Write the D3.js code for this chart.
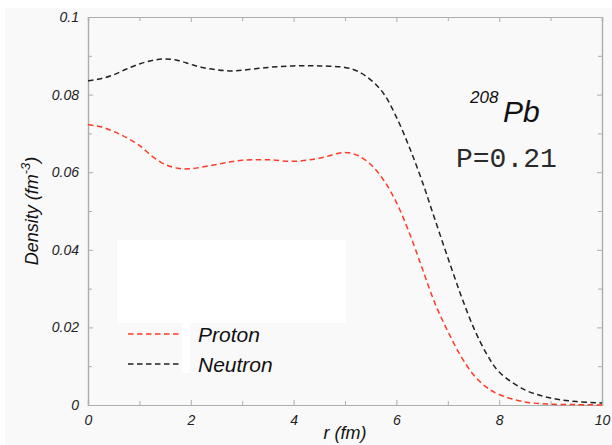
<!DOCTYPE html>
<html>
<head>
<meta charset="utf-8">
<script src="https://cdn.jsdelivr.net/npm/d3@7"></script>
<style>
  html, body { margin: 0; padding: 0; background: #ffffff; }
  svg { display: block; }
</style>
</head>
<body>
<svg id="chart" width="612" height="445"></svg>
<script>
// Radial density distributions for 208Pb
const radius = [0, 0.25, 0.5, 0.75, 1.0, 1.25, 1.5, 1.75, 2.0, 2.25, 2.5, 2.75, 3.0, 3.5, 4.0, 4.5, 5.0, 5.25, 5.5, 5.75, 6.0, 6.25, 6.5, 6.75, 7.0, 7.25, 7.5, 7.75, 8.0, 8.5, 9.0, 9.5, 10.0];
const neutronDensity = [0.0836, 0.0841, 0.0851, 0.0866, 0.0879, 0.0888, 0.0892, 0.0888, 0.0878, 0.0869, 0.0864, 0.0861, 0.0863, 0.0870, 0.0874, 0.0874, 0.0870, 0.0860, 0.0838, 0.0803, 0.0742, 0.0665, 0.0577, 0.0478, 0.0380, 0.0285, 0.0200, 0.0133, 0.0085, 0.0039, 0.0018, 0.0009, 0.0005];
const protonDensity  = [0.0722, 0.0717, 0.0705, 0.0689, 0.0669, 0.0641, 0.0620, 0.0610, 0.0609, 0.0614, 0.0620, 0.0626, 0.0631, 0.0632, 0.0628, 0.0636, 0.0651, 0.0643, 0.0620, 0.0580, 0.0522, 0.0444, 0.0353, 0.0262, 0.0190, 0.0127, 0.0078, 0.0046, 0.0027, 0.0008, 0.0002, 0.0001, 0.0000];

const xMajorTicks = [0, 2, 4, 6, 8, 10];
const xMinorTicks = [1, 3, 5, 7, 9];
const yMajorTicks = [0, 0.02, 0.04, 0.06, 0.08, 0.1];
const yMinorTicks = [0.01, 0.03, 0.05, 0.07, 0.09];
const yTickLabels = ["0", "0.02", "0.04", "0.06", "0.08", "0.1"];

const seriesNames = ["Proton", "Neutron"];
const seriesColors = ["#ff3a26", "#1f2326"];

const svg = d3.select("#chart");
const W = 612, H = 445;
const plot = { left: 88, right: 602, top: 17, bottom: 405 };

// page background
svg.append("rect").attr("x", 5).attr("y", 8).attr("width", W - 5).attr("height", H - 8).attr("fill", "#f9f9f9");

const x = d3.scaleLinear().domain([0, 10]).range([plot.left, plot.right]);
const y = d3.scaleLinear().domain([0, 0.1]).range([plot.bottom, plot.top]);

const frameColor = "#a9aeae";
const labelFont = "'Liberation Sans', Arial, Helvetica, sans-serif";

// legend backdrop
svg.append("rect").attr("x", 117).attr("y", 240).attr("width", 229).attr("height", 83).attr("fill", "#ffffff");
svg.append("rect").attr("x", 182).attr("y", 323).attr("width", 8).attr("height", 50).attr("fill", "#ffffff");

// axes: ticks point inward on all four sides
function addAxis(axisFn, scale, tx, ty, major, minor, fmt) {
  const g = svg.append("g").attr("transform", `translate(${tx},${ty})`);
  g.call(axisFn(scale).tickValues(major).tickSize(-5).tickFormat(fmt));
  const gm = svg.append("g").attr("transform", `translate(${tx},${ty})`);
  gm.call(axisFn(scale).tickValues(minor).tickSize(-4).tickFormat(""));
  [g, gm].forEach(s => {
    s.select(".domain").attr("stroke", frameColor).attr("stroke-width", 1.2);
    s.selectAll(".tick line").attr("stroke", frameColor).attr("stroke-width", 1);
  });
  return g;
}

const gx = addAxis(d3.axisBottom, x, 0, plot.bottom, xMajorTicks, xMinorTicks, d => d3.format("d")(d));
gx.selectAll(".tick text")
  .attr("y", 10).attr("dy", "0.71em")
  .attr("font-family", labelFont).attr("font-style", "italic").attr("font-size", 14).attr("fill", "#222");

const gxt = addAxis(d3.axisTop, x, 0, plot.top, xMajorTicks, xMinorTicks, "");
gxt.selectAll(".tick text").remove();

const gy = addAxis(d3.axisLeft, y, plot.left, 0, yMajorTicks, yMinorTicks, (d, i) => yTickLabels[i]);
gy.selectAll(".tick text")
  .attr("x", -9)
  .attr("font-family", labelFont).attr("font-style", "italic").attr("font-size", 14).attr("fill", "#222");

const gyr = addAxis(d3.axisRight, y, plot.right, 0, yMajorTicks, yMinorTicks, "");
gyr.selectAll(".tick text").remove();

// density curves
const line = d3.line()
  .x((d, i) => x(radius[i]))
  .y(d => y(d))
  .curve(d3.curveCatmullRom.alpha(0.5));

[protonDensity, neutronDensity].forEach((series, k) => {
  svg.append("path")
    .attr("d", line(series))
    .attr("fill", "none")
    .attr("stroke", seriesColors[k])
    .attr("stroke-width", 1.5)
    .attr("stroke-dasharray", "5.5,3.5");
});

// legend
const legendY = [334, 364];
seriesNames.forEach((name, k) => {
  svg.append("line")
    .attr("x1", 128).attr("x2", 181)
    .attr("y1", legendY[k]).attr("y2", legendY[k])
    .attr("stroke", seriesColors[k]).attr("stroke-width", 1.5)
    .attr("stroke-dasharray", "5.5,3.5");
  svg.append("text")
    .attr("x", 198).attr("y", legendY[k] + 8)
    .attr("font-family", labelFont).attr("font-style", "italic").attr("font-size", 21)
    .attr("fill", "#111")
    .text(name);
});

// nucleus annotation
const nuc = svg.append("text").attr("font-family", labelFont).attr("font-style", "italic").attr("fill", "#111");
nuc.append("tspan").attr("x", 470).attr("y", 103).attr("font-size", 17).text("208");
nuc.append("tspan").attr("x", 503).attr("y", 122).attr("font-size", 30).text("Pb");

svg.append("text")
  .attr("x", 456).attr("y", 167)
  .attr("font-family", "'Liberation Mono', 'Courier New', monospace")
  .attr("font-size", 28).attr("fill", "#2a2a2a")
  .text("P=0.21");

// axis titles
svg.append("text")
  .attr("x", (plot.left + plot.right) / 2).attr("y", 439)
  .attr("text-anchor", "middle")
  .attr("font-family", labelFont).attr("font-style", "italic").attr("font-size", 18).attr("fill", "#111")
  .text("r (fm)");

const yt = svg.append("text")
  .attr("transform", `translate(38,${(plot.top + plot.bottom) / 2}) rotate(-90)`)
  .attr("text-anchor", "middle")
  .attr("font-family", labelFont).attr("font-style", "italic").attr("font-size", 18).attr("fill", "#111");
yt.append("tspan").text("Density (fm");
yt.append("tspan").attr("dy", -8).attr("font-size", 13).text("-3");
yt.append("tspan").attr("dy", 8).text(")");
</script>
</body>
</html>
